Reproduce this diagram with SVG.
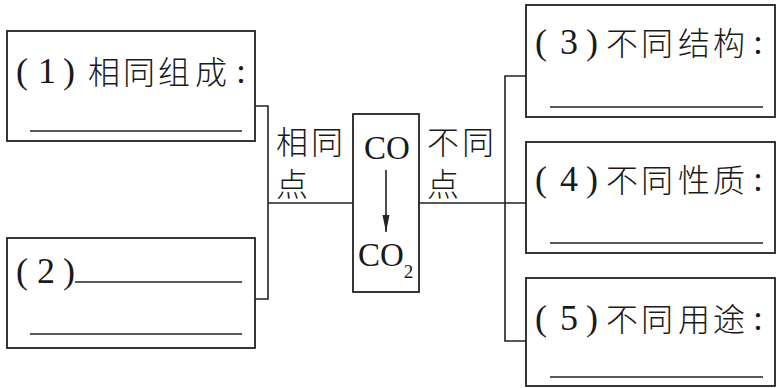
<svg xmlns="http://www.w3.org/2000/svg" width="781" height="388" viewBox="0 0 781 388">
<style>
.box{fill:#fff;stroke:#222;stroke-width:1.8}
.ln{fill:none;stroke:#222;stroke-width:1.6}
.ul{fill:none;stroke:#222;stroke-width:1.6}
.cjk{font-family:"Noto Sans CJK SC","Noto Sans",sans-serif;font-size:32px;font-weight:300;fill:#1a1a1a}
.ser{font-family:"Liberation Serif","Times New Roman",serif;font-size:36px;fill:#1a1a1a}
.chem{font-family:"Liberation Serif","Times New Roman",serif;font-size:33px;fill:#1a1a1a}
</style>
<defs>
<marker id="ah" markerWidth="18" markerHeight="8" refX="17" refY="4" orient="auto" markerUnits="userSpaceOnUse">
<path d="M0,0.5 L17,4 L0,7.5 Z" fill="#222"/>
</marker>
</defs>
<rect width="781" height="388" fill="#fff"/>
<g id="connectors">
<polyline class="ln" points="255,106 268,106 268,299 255,299"/>
<line class="ln" x1="268" y1="203" x2="353" y2="203"/>
<line class="ln" x1="419" y1="203" x2="526" y2="203"/>
<polyline class="ln" points="526,76 505,76 505,341 526,341"/>
</g>
<g id="node1">
<rect class="box" x="7" y="31" width="248" height="110"/>
<text class="ser" x="16 38 63" y="83">(1)</text>
<text class="cjk" x="88 123 158 195" y="84">相同组成</text>
<text class="ser" x="236" y="83">:</text>
<line class="ul" x1="30" y1="131" x2="242" y2="131"/>
</g>
<g id="node2">
<rect class="box" x="7" y="238" width="248" height="110"/>
<text class="ser" x="16 37 63" y="283">(2)</text>
<line class="ul" x1="75" y1="282" x2="242" y2="282"/>
<line class="ul" x1="30" y1="334" x2="242" y2="334"/>
</g>
<g id="label-same">
<text class="cjk" x="276 311" y="154">相同</text>
<text class="cjk" x="276" y="196">点</text>
</g>
<g id="node-center">
<rect class="box" x="353" y="114" width="66" height="178"/>
<text class="chem" x="387" y="159" text-anchor="middle">CO</text>
<line class="ln" x1="386" y1="170" x2="386" y2="232" marker-end="url(#ah)"/>
<text class="chem" x="358" y="266">CO<tspan font-size="19" y="278">2</tspan></text>
</g>
<g id="label-diff">
<text class="cjk" x="427 462" y="154">不同</text>
<text class="cjk" x="427" y="196">点</text>
</g>
<g id="node3">
<rect class="box" x="526" y="5" width="249" height="112"/>
<text class="ser" x="535 560 586" y="54">(3)</text>
<text class="cjk" x="606 641 678 713" y="55">不同结构</text>
<text class="ser" x="753" y="54">:</text>
<line class="ul" x1="550" y1="107" x2="763" y2="107"/>
</g>
<g id="node4">
<rect class="box" x="526" y="142" width="249" height="111"/>
<text class="ser" x="535 560 586" y="191">(4)</text>
<text class="cjk" x="606 641 678 713" y="192">不同性质</text>
<text class="ser" x="753" y="191">:</text>
<line class="ul" x1="550" y1="243" x2="763" y2="243"/>
</g>
<g id="node5">
<rect class="box" x="526" y="278" width="249" height="108"/>
<text class="ser" x="535 560 586" y="330">(5)</text>
<text class="cjk" x="606 641 678 713" y="331">不同用途</text>
<text class="ser" x="753" y="330">:</text>
<line class="ul" x1="550" y1="377" x2="763" y2="377"/>
</g>
</svg>
